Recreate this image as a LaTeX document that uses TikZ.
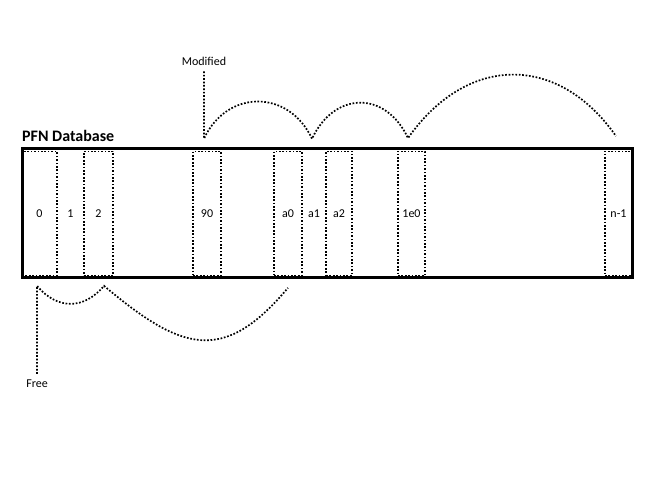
\documentclass[tikz,border=0pt]{standalone}
\usepackage{fontspec}
\setmainfont{Carlito}
\usetikzlibrary{positioning,calc}

\begin{document}
\begin{tikzpicture}[x=1pt,y=1pt,
  font=\fontsize{12}{14}\selectfont,
  cell/.style={draw,line width=1.7pt,dash pattern=on 1.7pt off 1.7pt,
               minimum height=124pt,inner sep=0pt},
  slot/.style={minimum height=124pt,inner sep=0pt},
  db/.style={draw,line width=3pt,minimum width=609.5pt,minimum height=129pt,inner sep=0pt},
  lbl/.style={inner sep=6pt},
  chain/.style={line width=1.7pt,dash pattern=on 1.7pt off 1.7pt}]

  \useasboundingbox (0,0) rectangle (648,492);

  % pfn entries
  \node[cell,minimum width=35pt] (c0)   at (39.5,278.5) {0};
  \node[slot,minimum width=27pt] (c1)   at (70.5,278.5) {1};
  \node[cell,minimum width=29pt] (c2)   at (98.5,278.5) {2};
  \node[cell,minimum width=28pt] (c90)  at (207,278.5) {90};
  \node[cell,minimum width=28pt] (ca0)  at (288,278.5) {a0};
  \node[slot,minimum width=24pt] (ca1)  at (314,278.5) {a1};
  \node[cell,minimum width=26pt] (ca2)  at (339,278.5) {a2};
  \node[cell,minimum width=27pt] (c1e0) at (411.5,278.5) {1e0};
  \node[cell,minimum width=27pt] (cn)   at (618.5,278.5) {n-1};

  \node[db] (pfn) at (327.25,278.5) {};
  \node[anchor=base west,inner sep=0pt,font=\fontsize{16}{19}\selectfont\bfseries]
    (title) at ([shift={(1pt,6pt)}]pfn.north west) {PFN Database};

  % list heads
  \node[lbl] (mod)  at (204,431) {Modified};
  \node[lbl] (free) at (37,108) {Free};

  \coordinate (m0) at ([shift={(-3pt,12pt)}]c90.north);
  \coordinate (m1) at ([shift={(-2pt,12.5pt)}]ca1.north);
  \coordinate (m2) at ([shift={(-3.5pt,12.5pt)}]c1e0.north);
  \coordinate (m3) at ([shift={(-2.5pt,14.5pt)}]cn.north);

  \coordinate (f0) at ([shift={(-2.5pt,-9.5pt)}]c0.south);
  \coordinate (f1) at ([shift={(5.5pt,-9.5pt)}]c2.south);
  \coordinate (f2) at ([shift={(0pt,-11.5pt)}]ca0.south);

  \draw[chain] (mod) -- (m0)
    to[out=65,in=115,looseness=1.3] (m1)
    to[out=65,in=115,looseness=1.4] (m2)
    to[out=55,in=125,looseness=1.25] (m3);
  \draw[chain] (free) -- (f0)
    to[out=-50,in=-130,looseness=1.2] (f1)
    to[out=-40,in=-130,looseness=1.4] (f2);
\end{tikzpicture}
\end{document}
